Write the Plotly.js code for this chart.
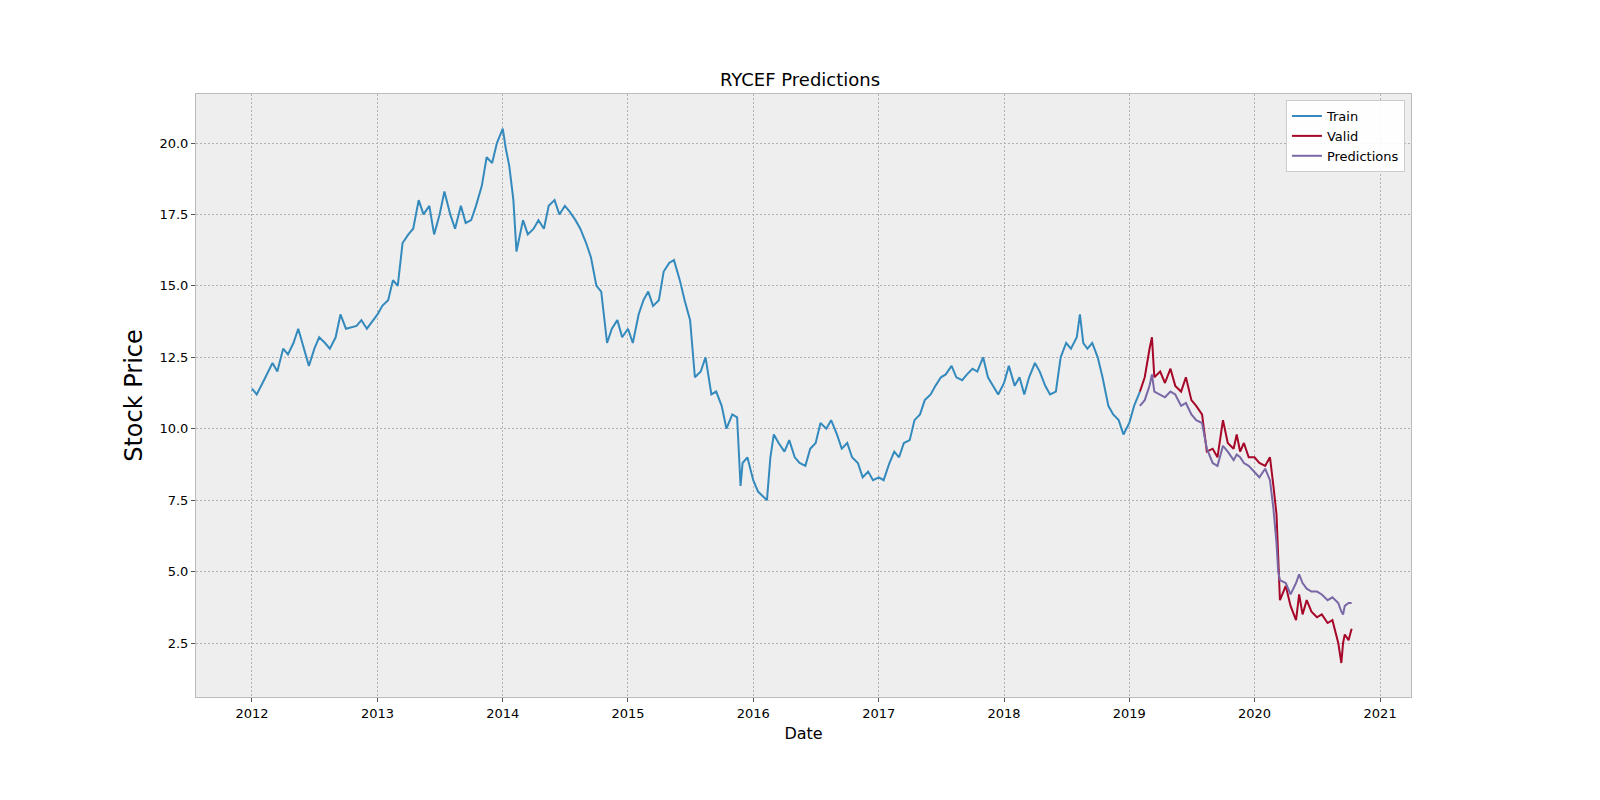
<!DOCTYPE html>
<html>
<head>
<meta charset="utf-8">
<script src="https://cdn.plot.ly/plotly-3.0.1.min.js"></script>
<style>body{margin:0;background:#fff}</style>
</head>
<body>
<div id="chart" style="width:1600px;height:800px"></div>
<script>
'use strict';

// values (semi-monthly)
var trainDates = [
  '2012-01-01','2012-01-15','2012-02-01','2012-03-01','2012-03-15','2012-04-01','2012-04-15','2012-05-01','2012-05-15','2012-06-01','2012-06-15',
  '2012-07-01','2012-07-15','2012-08-01','2012-08-15','2012-09-01','2012-09-15','2012-10-01','2012-11-01','2012-11-15','2012-12-01',
  '2013-01-01','2013-01-15','2013-02-01','2013-02-15','2013-03-01','2013-03-15','2013-04-01','2013-04-15','2013-05-01','2013-05-15',
  '2013-06-01','2013-06-15','2013-07-01','2013-07-15','2013-08-01','2013-08-15','2013-09-01','2013-09-15','2013-10-01','2013-10-15',
  '2013-11-01','2013-11-15','2013-12-01','2013-12-15','2014-01-01','2014-01-10','2014-01-20','2014-02-01','2014-02-10','2014-02-20',
  '2014-03-01','2014-03-15','2014-04-01','2014-04-15','2014-05-01','2014-05-15','2014-06-01','2014-06-15','2014-07-01','2014-07-15',
  '2014-08-01','2014-08-15','2014-09-01','2014-09-15','2014-10-01','2014-10-15','2014-11-01','2014-11-15','2014-12-01','2014-12-15',
  '2015-01-01','2015-01-15','2015-02-01','2015-02-15','2015-03-01','2015-03-15','2015-04-01','2015-04-15','2015-05-01','2015-05-15',
  '2015-06-01','2015-06-15','2015-07-01','2015-07-15','2015-08-01','2015-08-15','2015-09-01','2015-09-15','2015-10-01','2015-10-15',
  '2015-11-01','2015-11-15','2015-11-25','2015-12-01','2015-12-15','2016-01-01','2016-01-15','2016-02-01','2016-02-10','2016-02-20',
  '2016-03-01','2016-03-15','2016-04-01','2016-04-15','2016-05-01','2016-05-15','2016-06-01','2016-06-15','2016-07-01','2016-07-15',
  '2016-08-01','2016-08-15','2016-09-01','2016-09-15','2016-10-01','2016-10-15','2016-11-01','2016-11-15','2016-12-01','2016-12-15',
  '2017-01-01','2017-01-15','2017-02-01','2017-02-15','2017-03-01','2017-03-15','2017-04-01','2017-04-15','2017-05-01','2017-05-15',
  '2017-06-01','2017-06-15','2017-07-01','2017-07-15','2017-08-01','2017-08-15','2017-09-01','2017-09-15','2017-10-01','2017-10-15',
  '2017-11-01','2017-11-15','2017-12-01','2017-12-15','2018-01-01','2018-01-15','2018-02-01','2018-02-15','2018-03-01','2018-03-15',
  '2018-04-01','2018-04-15','2018-05-01','2018-05-15','2018-06-01','2018-06-15','2018-07-01','2018-07-15','2018-08-01','2018-08-10',
  '2018-08-20','2018-09-01','2018-09-15','2018-10-01','2018-10-15','2018-11-01','2018-11-15','2018-12-01','2018-12-15','2019-01-01',
  '2019-01-15','2019-02-01'
];
var trainPrice = [
  11.4,11.2,11.6,12.3,12.0,12.8,12.6,13.0,13.5,12.8,12.2,
  12.8,13.2,13.0,12.8,13.2,14.0,13.5,13.6,13.8,13.5,
  14.0,14.3,14.5,15.2,15.0,16.5,16.8,17.0,18.0,17.5,
  17.8,16.8,17.5,18.3,17.5,17.0,17.8,17.2,17.3,17.8,
  18.5,19.5,19.3,20.0,20.5,19.8,19.2,18.0,16.2,16.8,
  17.3,16.8,17.0,17.3,17.0,17.8,18.0,17.5,17.8,17.6,
  17.3,17.0,16.5,16.0,15.0,14.8,13.0,13.5,13.8,13.2,
  13.5,13.0,14.0,14.5,14.8,14.3,14.5,15.5,15.8,15.9,
  15.2,14.5,13.8,11.8,12.0,12.5,11.2,11.3,10.8,10.0,
  10.5,10.4,8.0,8.8,9.0,8.2,7.8,7.6,7.5,9.0,
  9.8,9.5,9.2,9.6,9.0,8.8,8.7,9.3,9.5,10.2,
  10.0,10.3,9.8,9.3,9.5,9.0,8.8,8.3,8.5,8.2,
  8.3,8.2,8.8,9.2,9.0,9.5,9.6,10.3,10.5,11.0,
  11.2,11.5,11.8,11.9,12.2,11.8,11.7,11.9,12.1,12.0,
  12.5,11.8,11.5,11.2,11.6,12.2,11.5,11.8,11.2,11.8,
  12.3,12.0,11.5,11.2,11.3,12.5,13.0,12.8,13.2,14.0,
  13.0,12.8,13.0,12.5,11.8,10.8,10.5,10.3,9.8,10.2,
  10.8,11.3
];

var validDates = [
  '2019-02-01','2019-02-15','2019-03-01','2019-03-08','2019-03-15','2019-04-01','2019-04-15','2019-05-01','2019-05-15','2019-06-01',
  '2019-06-15','2019-07-01','2019-07-15','2019-08-01','2019-08-15','2019-09-01','2019-09-15','2019-10-01','2019-10-15','2019-11-01',
  '2019-11-10','2019-11-20','2019-12-01','2019-12-15','2020-01-01','2020-01-15','2020-02-01','2020-02-15','2020-02-25','2020-03-05',
  '2020-03-10','2020-03-15','2020-04-01','2020-04-15','2020-05-01','2020-05-10','2020-05-20','2020-06-01','2020-06-15','2020-07-01',
  '2020-07-15','2020-08-01','2020-08-15','2020-09-01','2020-09-10','2020-09-15','2020-09-20','2020-10-01','2020-10-10'
];
var validPrice = [
  11.3,11.8,12.8,13.2,11.8,12.0,11.6,12.1,11.5,11.3,
  11.8,11.0,10.8,10.5,9.2,9.3,9.0,10.3,9.5,9.3,
  9.8,9.2,9.5,9.0,9.0,8.8,8.7,9.0,8.0,7.0,
  5.5,4.0,4.5,3.8,3.3,4.2,3.5,4.0,3.6,3.4,
  3.5,3.2,3.3,2.5,1.8,2.5,2.8,2.6,3.0
];
var predPrice = [
  10.8,11.0,11.5,11.9,11.3,11.2,11.1,11.3,11.2,10.8,
  10.9,10.5,10.3,10.2,9.3,8.8,8.7,9.4,9.2,8.9,
  9.1,9.0,8.8,8.7,8.5,8.3,8.6,8.2,7.2,6.0,
  5.0,4.7,4.6,4.2,4.6,4.9,4.6,4.4,4.3,4.3,
  4.2,4.0,4.1,3.9,3.6,3.5,3.8,3.9,3.9
];

var traces = [
  {x: trainDates, y: trainPrice, name: 'Train', type: 'scatter', mode: 'lines', line: {color: '#348ABD', width: 2}},
  {x: validDates, y: validPrice, name: 'Valid', type: 'scatter', mode: 'lines', line: {color: '#A60628', width: 2}},
  {x: validDates, y: predPrice, name: 'Predictions', type: 'scatter', mode: 'lines', line: {color: '#7A68A6', width: 2}}
];

var gridStyle = {showgrid: true, gridcolor: '#b2b2b2', griddash: '2px,2px', gridwidth: 0.6, zeroline: false,
  showline: true, linecolor: '#bcbcbc', mirror: true, ticks: 'outside', tickcolor: '#555', ticklen: 4,
  automargin: false, tickfont: {family: 'DejaVu Sans', size: 13, color: '#000'}};

var layout = {
  width: 1600, height: 800,
  margin: {l: 196, r: 189, t: 94, b: 103},
  paper_bgcolor: '#ffffff', plot_bgcolor: '#eeeeee',
  font: {family: 'DejaVu Sans', color: '#000'},
  title: {text: 'RYCEF Predictions', font: {size: 18}, x: 0.5, xanchor: 'center', y: 0.893, yanchor: 'bottom', automargin: false},
  xaxis: Object.assign({}, gridStyle, {
    type: 'date', range: ['2011-07-22', '2021-04-01'],
    tickvals: ['2012-01-01','2013-01-01','2014-01-01','2015-01-01','2016-01-01','2017-01-01','2018-01-01','2019-01-01','2020-01-01','2021-01-01'],
    ticktext: ['2012','2013','2014','2015','2016','2017','2018','2019','2020','2021'],
    title: {text: 'Date', font: {size: 16}, standoff: 8}
  }),
  yaxis: Object.assign({}, gridStyle, {
    range: [0.61, 21.715], tickvals: [2.5, 5, 7.5, 10, 12.5, 15, 17.5, 20], tickformat: '.1f',
    title: {text: 'Stock Price', font: {size: 24}, standoff: 10}
  }),
  legend: {x: 0.995, y: 0.99, xanchor: 'right', yanchor: 'top', bgcolor: 'rgba(255,255,255,0.9)',
    bordercolor: '#cccccc', borderwidth: 1, font: {size: 13}},
  showlegend: true
};

Plotly.newPlot('chart', traces, layout, {displayModeBar: false});
</script>
</body>
</html>
